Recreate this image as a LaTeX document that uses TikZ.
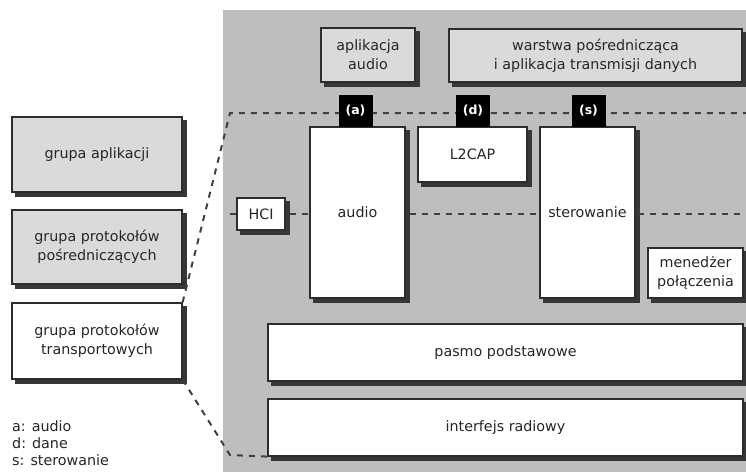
\documentclass[tikz,border=0pt]{standalone}
\usepackage{fontspec}
\setmainfont{DejaVu Sans}
\definecolor{panelgray}{RGB}{190,190,190}
\definecolor{boxgray}{RGB}{218,218,218}
\definecolor{edgegray}{RGB}{45,45,45}
\definecolor{shadowgray}{RGB}{55,55,55}
\pgfdeclarelayer{bg}
\pgfdeclarelayer{shad}
\pgfsetlayers{bg,shad,main}
\tikzset{
  every node/.style={font=\fontsize{14.3}{19}\selectfont, text=black!85, align=center, inner sep=0pt},
  box/.style={draw=edgegray, line width=1.2pt, fill=white},
  graybox/.style={box, fill=boxgray},
  tag/.style={fill=black, text=white, minimum width=34pt, minimum height=32pt, font=\fontsize{12.5}{14}\selectfont\bfseries},
  guide/.style={draw=black!75, line width=2pt, dash pattern=on 6pt off 6pt},
  legend/.style={anchor=west, align=left},
  shadowfill/.style={fill=shadowgray}
}
\begin{document}
\begin{tikzpicture}[x=1pt, y=-1pt]
\useasboundingbox (0,0) rectangle (746,472);
\begin{pgfonlayer}{bg}
\fill[white] (0,0) rectangle (746,472);
\fill[panelgray] (223,10) rectangle (746,472);
\end{pgfonlayer}

% coordinates for guide lines
\coordinate (topL) at (230,113);
\coordinate (topR) at (746,113);
\coordinate (midL) at (230,214);
\coordinate (midR) at (746,214);
\coordinate (botL) at (230,455);

% left group boxes
\node[graybox, minimum width=170pt, minimum height=75pt] (gapl) at (97,154.5) {grupa aplikacji};
\node[graybox, minimum width=170pt, minimum height=74pt] (gposr) at (97,247) {grupa protokołów\\pośredniczących};
\node[box, minimum width=170pt, minimum height=76pt] (gtrans) at (97,341) {grupa protokołów\\transportowych};

% legend
\node[legend] (lega) at (12,426) {a: audio};
\node[legend] (legd) at (12,443) {d: dane};
\node[legend] (legs) at (12,460) {s: sterowanie};

% guide lines
\draw[guide] (gtrans.north east) -- (topL) -- (topR);
\draw[guide] (midL) -- (midR);

% top boxes
\node[graybox, minimum width=94pt, minimum height=54pt] (appaudio) at (368,55) {aplikacja\\audio};
\node[graybox, minimum width=293pt, minimum height=53pt] (warstwa) at (595.5,55.5) {warstwa pośrednicząca\\i aplikacja transmisji danych};

% protocol boxes
\node[box, minimum width=95pt, minimum height=171pt] (audio) at (357.5,212.5) {audio};
\node[box, minimum width=109pt, minimum height=55pt] (l2cap) at (472.5,154.5) {L2CAP};
\node[box, minimum width=95pt, minimum height=171pt] (sterowanie) at (587.5,212.5) {sterowanie};
\node[box, minimum width=95pt, minimum height=50pt] (menedzer) at (695.5,273) {menedżer\\połączenia};
\node[box, minimum width=48pt, minimum height=32pt] (hci) at (261,214) {HCI};
\node[box, minimum width=475pt, minimum height=57pt] (pasmo) at (505.5,352.5) {pasmo podstawowe};
\node[box, minimum width=475pt, minimum height=57pt] (interfejs) at (505.5,427.5) {interfejs radiowy};

% lower guide line
\draw[guide] (gtrans.south east) -- (botL) -- (interfejs.south west);

% tags
\node[tag] (taga) at (355.5,111) {(a)};
\node[tag] (tagd) at (473,111) {(d)};
\node[tag] (tags) at (588.5,111) {(s)};

% drop shadows
\begin{pgfonlayer}{shad}
\foreach \n in {gapl,gposr,gtrans,appaudio,warstwa,audio,l2cap,sterowanie,menedzer,hci,pasmo,interfejs}{
  \fill[shadowfill] ([shift={(4pt,-4pt)}]\n.north west) rectangle ([shift={(4pt,-4pt)}]\n.south east);
}
\end{pgfonlayer}
\end{tikzpicture}
\end{document}
